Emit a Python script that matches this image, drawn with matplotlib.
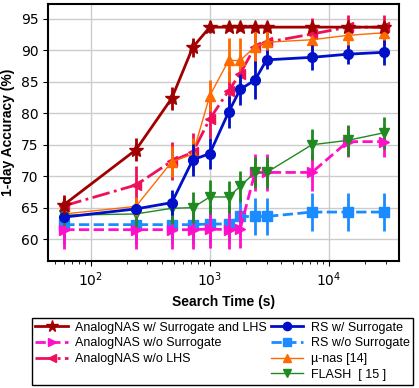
import numpy as np
import matplotlib
matplotlib.use("Agg")
from matplotlib import pyplot as plt
from matplotlib.lines import Line2D

plt.rcParams['font.family'] = ['Liberation Sans', 'DejaVu Sans']

# search times (s)
t = [60, 240, 480, 720, 1000, 1440, 1800, 2400, 3000, 7200, 14400, 28800]

lhs_y = [65.5, 74.2, 82.4, 90.5, 93.7, 93.7, 93.7, 93.7, 93.7, 93.7, 93.7, 93.7]
lhs_e = [1.5, 1.8, 1.8, 1.5, 1.0, 0.6, 0.6, 0.6, 0.6, 0.6, 0.6, 0.6]

nosur_y = [61.5, 61.5, 61.5, 61.5, 61.6, 61.5, 61.6, 70.6, 70.6, 70.6, 75.5, 75.5]
nosur_e = [3.0, 3.0, 3.0, 3.0, 3.0, 3.0, 3.0, 3.0, 3.0, 3.0, 2.5, 2.5]

nolhs_y = [65.3, 68.6, 72.4, 73.8, 79.1, 83.6, 86.3, 90.6, 91.3, 92.6, 93.7, 93.7]
nolhs_e = [1.2, 3.0, 3.0, 3.0, 3.0, 3.0, 3.0, 3.0, 3.0, 2.5, 2.0, 2.0]

rs_y = [63.5, 64.8, 65.8, 72.6, 73.6, 80.2, 83.8, 85.3, 88.5, 88.9, 89.4, 89.7]
rs_e = [0.5, 0.8, 2.0, 2.5, 2.5, 2.5, 2.5, 3.0, 1.5, 2.0, 1.5, 2.0]

rsnosur_y = [62.3, 62.3, 62.3, 62.3, 62.4, 62.4, 63.6, 63.6, 63.6, 64.3, 64.3, 64.3]
rsnosur_e = [3.0, 3.0, 3.0, 3.0, 3.0, 3.0, 3.0, 3.0, 3.0, 3.0, 3.0, 3.0]

munas_y = [64.0, 65.2, 72.3, 73.5, 82.8, 88.4, 88.4, 90.6, 91.3, 91.7, 92.4, 92.8]
munas_e = [1.0, 1.5, 2.5, 2.5, 2.5, 3.5, 3.5, 3.0, 2.0, 2.0, 2.0, 2.0]

flash_y = [63.8, 64.0, 64.9, 65.0, 66.7, 66.7, 68.4, 70.6, 70.6, 75.0, 75.7, 76.9]
flash_e = [1.5, 2.5, 2.5, 2.5, 2.7, 2.5, 2.5, 2.5, 2.5, 2.5, 2.5, 2.5]

fig = plt.figure(figsize=(4.19, 3.88), dpi=100)
ax = fig.add_axes([0.115, 0.327, 0.837, 0.663])

series = [
    (lhs_y, lhs_e, 'AnalogNAS w/ Surrogate and LHS', '#a00000', '-', '*', 10, 2.0, 6),
    (nosur_y, nosur_e, 'AnalogNAS w/o Surrogate', '#ff10c8', '--', '>', 7, 2.0, 3),
    (nolhs_y, nolhs_e, 'AnalogNAS w/o LHS', '#f0105a', '-.', '<', 7, 2.0, 4),
    (rs_y, rs_e, 'RS w/ Surrogate', '#0010c8', '-', 'o', 7, 2.0, 5),
    (rsnosur_y, rsnosur_e, 'RS w/o Surrogate', '#1a8cff', '--', 's', 6.5, 2.0, 2),
    (munas_y, munas_e, 'µ-nas [14]', '#ff6a00', '-', '^', 7, 1.0, 4),
    (flash_y, flash_e, 'FLASH  [ 15 ]', '#1f8a1f', '-', 'v', 7, 1.0, 3),
]

handles = []
for y, e, lab, c, ls, mk, ms, lw, z in series:
    ax.errorbar(t, y, yerr=e, color=c, ls=ls, lw=lw, marker=mk, ms=ms,
                elinewidth=2, capsize=0, zorder=z)
    handles.append(Line2D([], [], color=c, ls=ls, lw=lw, marker=mk, ms=ms * 0.85))

ax.set_xscale('log')
ax.set_xlim(44, 38700)
ax.set_ylim(56.5, 97.4)
ax.set_yticks([60, 65, 70, 75, 80, 85, 90, 95])
ax.grid(True, which='major', color='#cccccc', lw=1)
ax.set_axisbelow(True)
ax.tick_params(labelsize=10)
for lbl in ax.get_xticklabels() + ax.get_yticklabels():
    lbl.set_family('DejaVu Sans')
for s in ax.spines.values():
    s.set_linewidth(1.5)
ax.set_xlabel('Search Time (s)', fontsize=10, fontweight='bold')
ax.set_ylabel('1-day Accuracy (%)', fontsize=10, fontweight='bold')

# blank slot so the first column holds three entries
blank = Line2D([], [], color='none')
order = handles[:3] + [blank] + handles[3:]
labels = [s[2] for s in series[:3]] + [''] + [s[2] for s in series[3:]]
leg = fig.legend(order, labels, ncol=2, loc='upper center',
                 bbox_to_anchor=(0.531, 0.197), fontsize=9,
                 fancybox=False, edgecolor='black', framealpha=1,
                 handlelength=2.6, columnspacing=0.3, labelspacing=0.3,
                 borderpad=0.3, handletextpad=0.6)
leg.get_frame().set_linewidth(1.0)

fig.savefig('out.png', dpi=100)
